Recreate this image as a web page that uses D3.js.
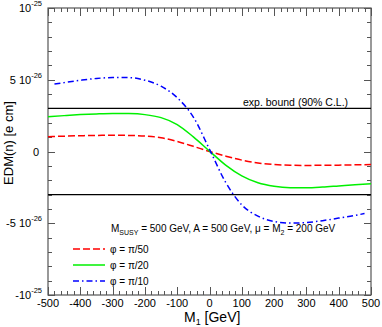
<!DOCTYPE html>
<html>
<head>
<meta charset="utf-8">
<script src="https://cdn.jsdelivr.net/npm/d3@7"></script>
<style>
  body { margin: 0; background: #fff; }
  svg { display: block; font-family: "Liberation Sans", Arial, Helvetica, sans-serif; }
</style>
</head>
<body>
<svg id="chart" width="382" height="327"></svg>
<script>
// ---- data (EDM in e cm) ----
const m1 = [-500,-450,-400,-350,-300,-250,-200,-150,-100,-50,0,50,100,150,200,250,300,350,400,450,500];
const edmPi50 = [1.03e-26,1.07e-26,1.10e-26,1.12e-26,1.13e-26,1.12e-26,1.08e-26,0.96e-26,0.70e-26,0.36e-26,0.0,-0.32e-26,-0.60e-26,-0.80e-26,-0.91e-26,-0.96e-26,-0.97e-26,-0.96e-26,-0.95e-26,-0.93e-26,-0.91e-26];
const edmPi20 = [2.42e-26,2.50e-26,2.57e-26,2.62e-26,2.65e-26,2.64e-26,2.57e-26,2.36e-26,1.88e-26,1.02e-26,0.03e-26,-0.95e-26,-1.70e-26,-2.18e-26,-2.42e-26,-2.52e-26,-2.53e-26,-2.48e-26,-2.40e-26,-2.32e-26,-2.25e-26];
const m1Pi10 = [-480,-450,-400,-350,-300,-250,-200,-150,-100,-50,0,50,100,150,200,250,300,350,400,450,480];
const edmPi10 = [4.70e-26,4.80e-26,4.96e-26,5.09e-26,5.15e-26,5.15e-26,4.97e-26,4.55e-26,3.75e-26,2.40e-26,0.15e-26,-2.15e-26,-3.72e-26,-4.50e-26,-4.88e-26,-4.99e-26,-4.95e-26,-4.82e-26,-4.64e-26,-4.46e-26,-4.32e-26];
const expBound = 3e-26;
const xTicks = [-500,-400,-300,-200,-100,0,100,200,300,400,500];
const yTicks = [
  {v: 1e-25, base: "10", sup: "-25"},
  {v: 5e-26, base: "5 10", sup: "-26"},
  {v: 0, base: "0", sup: ""},
  {v: -5e-26, base: "-5 10", sup: "-26"},
  {v: -1e-25, base: "-10", sup: "-25"}
];
const series = [
  {name: "φ = π/50", x: m1, y: edmPi50, color: "#ff0000", dash: "7,3"},
  {name: "φ = π/20", x: m1, y: edmPi20, color: "#00f000", dash: null},
  {name: "φ = π/10", x: m1Pi10, y: edmPi10, color: "#0000ff", dash: "6,3,1.5,3"}
];

// ---- layout ----
const L = 48, R = 371, T = 8, B = 295;
const svg = d3.select("#chart");
const x = d3.scaleLinear().domain([-500, 500]).range([L, R]);
const y = d3.scaleLinear().domain([-1e-25, 1e-25]).range([B, T]);
const axisColor = "#555";

// ticks (inward, mirrored)
const g = svg.append("g").attr("stroke", axisColor).attr("stroke-width", 1);
d3.range(-500, 501, 20).forEach(v => {
  const major = v % 100 === 0;
  const len = major ? 8 : 4;
  const px = Math.round(x(v)) + 0.5;
  g.append("line").attr("x1", px).attr("x2", px).attr("y1", B).attr("y2", B - len);
  g.append("line").attr("x1", px).attr("x2", px).attr("y1", T).attr("y2", T + len);
});
d3.range(-10, 11, 1).forEach(k => {
  const v = k * 1e-26;
  const major = k % 5 === 0;
  const len = major ? 7 : 4;
  const py = Math.round(y(v)) + 0.5;
  g.append("line").attr("x1", L).attr("x2", L + len).attr("y1", py).attr("y2", py);
  g.append("line").attr("x1", R).attr("x2", R - len).attr("y1", py).attr("y2", py);
});
svg.append("rect").attr("x", L).attr("y", T).attr("width", R - L).attr("height", B - T)
  .attr("fill", "none").attr("stroke", axisColor).attr("stroke-width", 1.2);

// x tick labels
svg.append("g").selectAll("text").data(xTicks).join("text")
  .attr("x", d => x(d)).attr("y", 307).attr("text-anchor", "middle")
  .attr("font-size", 11).attr("fill", "#000").text(d => d);

// y tick labels
yTicks.forEach(t => {
  const tx = svg.append("text").attr("x", t.sup ? 42 : 39).attr("y", y(t.v) + 4)
    .attr("text-anchor", "end").attr("font-size", 11).attr("fill", "#000");
  tx.append("tspan").text(t.base);
  if (t.sup) tx.append("tspan").attr("dy", -6).attr("font-size", 7.5).text(t.sup);
});

// exp bound lines
[expBound, -expBound].forEach(v => {
  svg.append("line").attr("x1", L).attr("x2", R).attr("y1", y(v)).attr("y2", y(v))
    .attr("stroke", "#000").attr("stroke-width", 1.3);
});
svg.append("text").attr("x", 243).attr("y", 105.5).attr("font-size", 10.5).text("exp. bound (90% C.L.)");

// curves
const line = d3.line().curve(d3.curveMonotoneX);
series.forEach(s => {
  const pts = s.x.map((xv, i) => [x(xv), y(s.y[i])]);
  svg.append("path").attr("d", line(pts)).attr("fill", "none")
    .attr("stroke", s.color).attr("stroke-width", 1.5)
    .attr("stroke-dasharray", s.dash);
});

// parameter text
const p = svg.append("text").attr("x", 111).attr("y", 232).attr("font-size", 10);
p.append("tspan").text("M");
p.append("tspan").attr("font-size", 7).attr("dy", 2.5).text("SUSY");
p.append("tspan").attr("dy", -2.5).text(" = 500 GeV, A = 500 GeV, μ = M");
p.append("tspan").attr("font-size", 7).attr("dy", 2.5).text("2");
p.append("tspan").attr("dy", -2.5).text(" = 200 GeV");

// legend
const legY = [249, 265, 281];
series.forEach((s, i) => {
  svg.append("line").attr("x1", 73).attr("x2", 105).attr("y1", legY[i]).attr("y2", legY[i])
    .attr("stroke", s.color).attr("stroke-width", 1.5).attr("stroke-dasharray", s.dash);
  svg.append("text").attr("x", 110).attr("y", legY[i] + 3.5).attr("font-size", 10).text(s.name);
});

// axis titles
const xl = svg.append("text").attr("x", 184).attr("y", 322).attr("font-size", 14);
xl.append("tspan").text("M");
xl.append("tspan").attr("font-size", 9).attr("dy", 3).text("1");
xl.append("tspan").attr("dy", -3).text(" [GeV]");

svg.append("text").attr("transform", "translate(13,143) rotate(-90)")
  .attr("text-anchor", "middle").attr("font-size", 13).text("EDM(n) [e cm]");
</script>
</body>
</html>
